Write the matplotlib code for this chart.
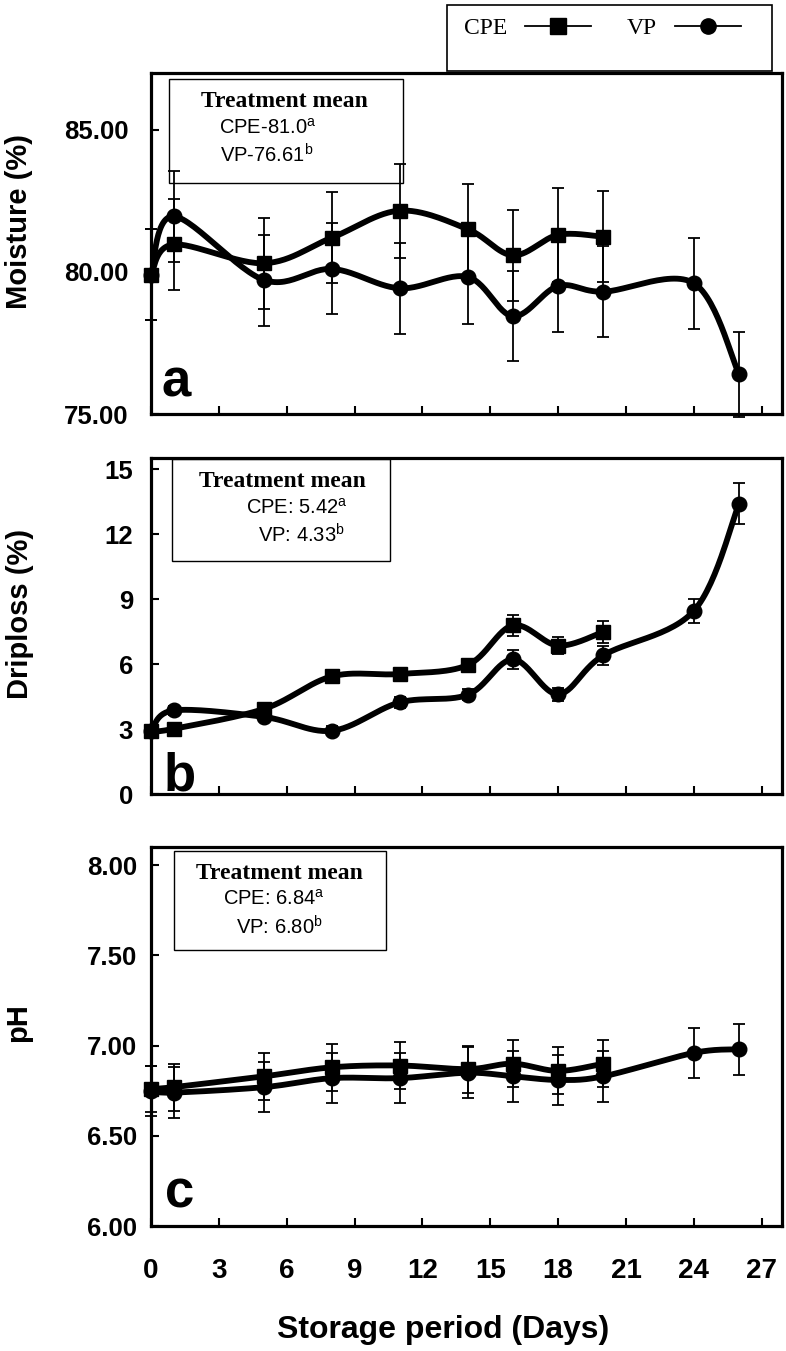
import numpy as np
import matplotlib.pyplot as plt
from matplotlib.lines import Line2D
from matplotlib.patches import Rectangle

plt.rcParams['font.family'] = ['Liberation Sans', 'DejaVu Sans']
plt.rcParams['mathtext.fontset'] = 'custom'
plt.rcParams['mathtext.rm'] = 'Liberation Sans'
plt.rcParams['mathtext.it'] = 'Liberation Sans:italic'

# storage days
days_cpe = [0, 1, 5, 8, 11, 14, 16, 18, 20]
days_vp = [0, 1, 5, 8, 11, 14, 16, 18, 20, 24, 26]

# moisture (%)
moist_cpe = [79.9, 80.96, 80.3, 81.2, 82.15, 81.5, 80.58, 81.3, 81.23]
moist_cpe_err = [1.6, 1.6, 1.6, 1.6, 1.65, 1.6, 1.6, 1.65, 1.6]
moist_vp = [79.9, 81.95, 79.71, 80.1, 79.42, 79.82, 78.44, 79.5, 79.3, 79.6, 76.4]
moist_vp_err = [1.6, 1.6, 1.6, 1.6, 1.6, 1.65, 1.58, 1.6, 1.6, 1.6, 1.5]

# driploss (%)
drip_cpe = [2.9, 3.02, 3.94, 5.44, 5.55, 5.96, 7.79, 6.86, 7.49]
drip_cpe_err = [0.2, 0.2, 0.25, 0.25, 0.25, 0.3, 0.5, 0.4, 0.5]
drip_vp = [2.9, 3.87, 3.57, 2.93, 4.24, 4.59, 6.22, 4.62, 6.41, 8.46, 13.4]
drip_vp_err = [0.2, 0.2, 0.2, 0.2, 0.25, 0.25, 0.45, 0.3, 0.45, 0.55, 0.95]

# pH
ph_cpe = [6.76, 6.77, 6.83, 6.88, 6.89, 6.87, 6.90, 6.86, 6.90]
ph_cpe_err = [0.13, 0.13, 0.13, 0.13, 0.13, 0.13, 0.13, 0.13, 0.13]
ph_vp = [6.75, 6.74, 6.77, 6.82, 6.82, 6.85, 6.83, 6.81, 6.83, 6.96, 6.98]
ph_vp_err = [0.14, 0.14, 0.14, 0.14, 0.14, 0.14, 0.14, 0.14, 0.14, 0.14, 0.14]

# treatment means shown in the boxes
mean_a = [r'CPE-81.0$^{\mathrm{a}}$', r'VP-76.61$^{\mathrm{b}}$']
mean_b = [r'CPE: 5.42$^{\mathrm{a}}$', r'VP: 4.33$^{\mathrm{b}}$']
mean_c = [r'CPE: 6.84$^{\mathrm{a}}$', r'VP: 6.80$^{\mathrm{b}}$']

xticks = np.arange(0, 28, 3)


def smooth(x, y, n=30):
    # Catmull-Rom style bezier through the points (like a spreadsheet "smoothed line")
    p = np.column_stack([x, y]).astype(float)
    p = np.vstack([p[0], p, p[-1]])
    out = []
    t = np.linspace(0, 1, n)[:, None]
    for i in range(1, len(p) - 2):
        p0, p1, p2, p3 = p[i - 1], p[i], p[i + 1], p[i + 2]
        c1 = p1 + (p2 - p0) / 6
        c2 = p2 - (p3 - p1) / 6
        seg = (1 - t) ** 3 * p1 + 3 * (1 - t) ** 2 * t * c1 + 3 * (1 - t) * t ** 2 * c2 + t ** 3 * p2
        out.append(seg)
    s = np.vstack(out)
    return s[:, 0], s[:, 1]


def draw_series(ax, x, y, e, marker):
    sx, sy = smooth(x, y)
    ax.plot(sx, sy, color='k', lw=4.2, solid_capstyle='round', zorder=2)
    eb = ax.errorbar(x, y, yerr=e, fmt='none', ecolor='k', elinewidth=1.3,
                     capsize=4, capthick=1.3, zorder=3)
    for ln in eb.lines[1]:
        ln.set_clip_on(False)
    for ln in eb.lines[2]:
        ln.set_clip_on(False)
    ax.plot(x, y, linestyle='none', marker=marker, ms=10.5, color='k', zorder=4, clip_on=False)


def mean_box(ax, box, title_xy, lines, lines_xy):
    l, r, b, t = box
    ax.add_patch(Rectangle((l, b), r - l, t - b, transform=ax.transAxes, fill=False,
                           lw=1.0, edgecolor='k', zorder=5))
    ax.text(title_xy[0], title_xy[1], 'Treatment mean', transform=ax.transAxes,
            ha='center', va='center', fontsize=17, fontweight='bold',
            family='Liberation Serif', zorder=6)
    for s, (x, y) in zip(lines, lines_xy):
        ax.text(x, y, s, transform=ax.transAxes, ha='center', va='center',
                fontsize=14.5, zorder=6)


def style_axes(ax, ypad, show_x):
    for sp in ax.spines.values():
        sp.set_linewidth(2.3)
    ax.set_xlim(0, 27.9)
    ax.set_xticks(xticks)
    ax.tick_params(axis='x', direction='in', length=6, width=1.5,
                   labelbottom=show_x, labelsize=20, pad=23)
    ax.tick_params(axis='y', direction='in', length=6, width=1.5,
                   labelsize=18.5, pad=ypad)
    for lab in ax.get_xticklabels() + ax.get_yticklabels():
        lab.set_fontweight('bold')


fig = plt.figure(figsize=(7.86, 13.51), dpi=100)
W, H = 786.0, 1351.0

ax_a = fig.add_axes([151 / W, 1 - 414 / H, 631 / W, 341.3 / H])
ax_b = fig.add_axes([151 / W, 1 - 794.3 / H, 631 / W, 336 / H])
ax_c = fig.add_axes([151 / W, 1 - 1226 / H, 631 / W, 378.7 / H])

# a: moisture
draw_series(ax_a, days_vp, moist_vp, moist_vp_err, 'o')
draw_series(ax_a, days_cpe, moist_cpe, moist_cpe_err, 's')
ax_a.set_ylim(75, 87)
ax_a.set_yticks([75, 80, 85])
ax_a.set_yticklabels(['%.2f' % v for v in [75, 80, 85]])
style_axes(ax_a, 16, False)
mean_box(ax_a, (0.029, 0.399, 0.676, 0.981), (0.212, 0.915), mean_a,
         [(0.185, 0.838), (0.184, 0.759)])
ax_a.text(0.016, 0.05, 'a', transform=ax_a.transAxes, fontsize=38,
          fontweight='bold', ha='left', va='baseline')

# b: driploss
draw_series(ax_b, days_vp, drip_vp, drip_vp_err, 'o')
draw_series(ax_b, days_cpe, drip_cpe, drip_cpe_err, 's')
ax_b.set_ylim(0, 15.5)
ax_b.set_yticks([0, 3, 6, 9, 12, 15])
style_axes(ax_b, 13, False)
mean_box(ax_b, (0.034, 0.379, 0.695, 0.997), (0.209, 0.930), mean_b,
         [(0.232, 0.852), (0.238, 0.772)])
ax_b.text(0.02, 0.01, 'b', transform=ax_b.transAxes, fontsize=38,
          fontweight='bold', ha='left', va='baseline')

# c: pH
draw_series(ax_c, days_vp, ph_vp, ph_vp_err, 'o')
draw_series(ax_c, days_cpe, ph_cpe, ph_cpe_err, 's')
ax_c.set_ylim(6.0, 8.1)
ax_c.set_yticks([6.0, 6.5, 7.0, 7.5, 8.0])
ax_c.set_yticklabels(['%.2f' % v for v in [6.0, 6.5, 7.0, 7.5, 8.0]])
style_axes(ax_c, 10, True)
mean_box(ax_c, (0.036, 0.372, 0.729, 0.991), (0.203, 0.932), mean_c,
         [(0.195, 0.865), (0.203, 0.790)])
ax_c.text(0.022, 0.05, 'c', transform=ax_c.transAxes, fontsize=38,
          fontweight='bold', ha='left', va='baseline')

# axis titles
fig.text(19 / W, 1 - 221.5 / H, 'Moisture (%)', rotation=90, ha='center', va='center',
         fontsize=21, fontweight='bold')
fig.text(20 / W, 1 - 614 / H, 'Driploss (%)', rotation=90, ha='center', va='center',
         fontsize=21, fontweight='bold')
fig.text(18 / W, 1 - 1022.5 / H, 'pH', rotation=90, ha='center', va='center',
         fontsize=21, fontweight='bold')
fig.text(443 / W, 1 - 1330 / H, 'Storage period (Days)', ha='center', va='center',
         fontsize=23, fontweight='bold')

# legend box at the top
fig.patches.append(Rectangle((446.7 / W, 1 - 70.7 / H), (772 - 446.7) / W, 66 / H,
                             transform=fig.transFigure, fill=False, lw=1.2,
                             edgecolor='k', zorder=0))
handles = [Line2D([], [], color='k', lw=1.3, marker='s', ms=11),
           Line2D([], [], color='k', lw=1.3, marker='o', ms=11)]
fig.legend(handles, ['CPE', 'VP'], loc='center left', bbox_to_anchor=(443 / W, 1 - 28 / H),
           ncol=2, frameon=False, markerfirst=False, handlelength=2.8,
           handletextpad=0.75, columnspacing=1.5,
           prop={'family': 'Liberation Serif', 'size': 17})

fig.savefig('out.png', dpi=100)
